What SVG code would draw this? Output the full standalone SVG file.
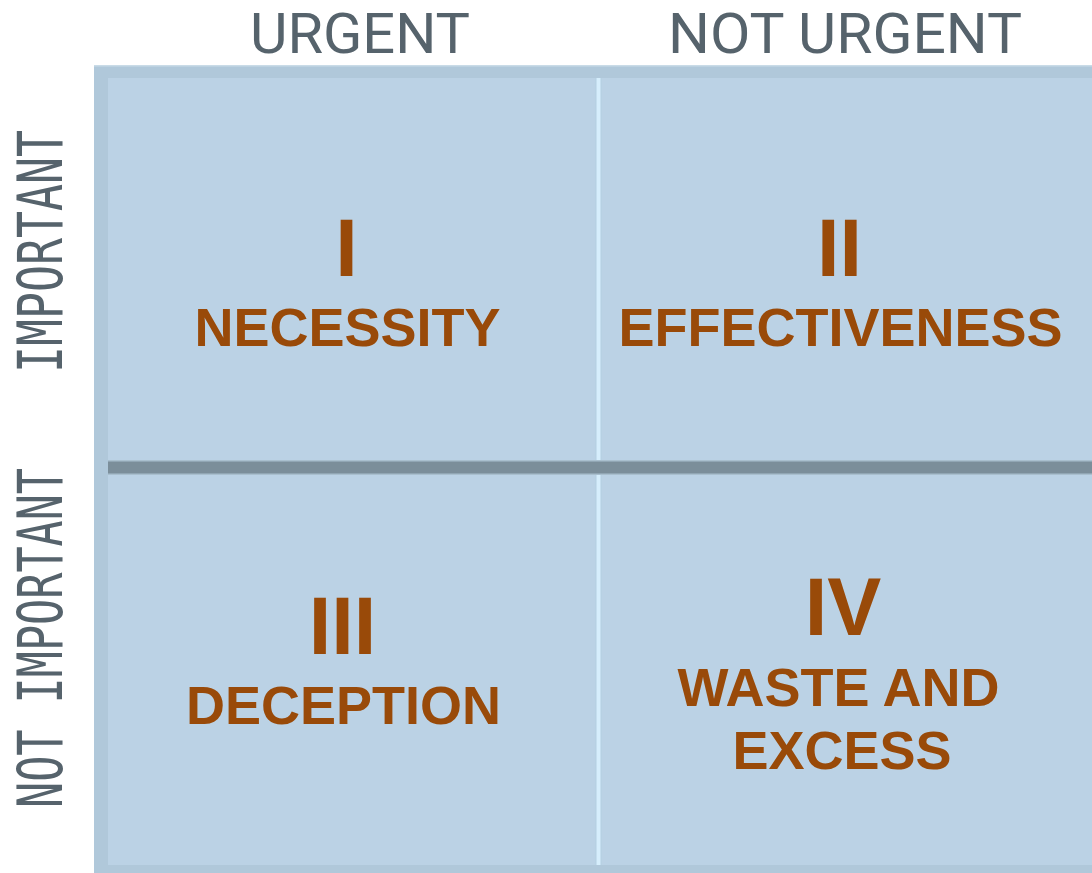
<svg xmlns="http://www.w3.org/2000/svg" width="1092" height="873" viewBox="0 0 1092 873">
  <style>
    .axis { font-family: Roboto, "Open Sans", "Liberation Sans", sans-serif; font-size: 56px; fill: #56636c; text-anchor: middle; }
    .axis-v { font-family: "DejaVu Sans Mono", "Liberation Mono", monospace; font-size: 63px; fill: #56636c; text-anchor: middle; }
    .num { font-family: "Liberation Sans", Arial, sans-serif; font-weight: bold; font-size: 81px; fill: #994a09; text-anchor: middle; }
    .name { font-family: "Liberation Sans", Arial, sans-serif; font-weight: bold; font-size: 54px; fill: #994a09; text-anchor: middle; }
  </style>

  <rect width="1092" height="873" fill="#ffffff"/>

  <!-- matrix panel -->
  <g id="panel">
    <rect x="94" y="65" width="998" height="808" fill="#b0c8da"/>
    <rect x="94" y="65" width="998" height="1.5" fill="#c9dbe7"/>
    <rect x="108" y="78" width="984" height="787" fill="#bbd2e5"/>
  </g>

  <!-- dividers -->
  <g id="dividers">
    <rect x="595.5" y="78" width="6" height="787" fill="#b4cfe2"/>
    <rect x="596.5" y="78" width="4" height="787" fill="#d6eefc"/>
    <rect x="108" y="460" width="984" height="15" fill="#a9bfce"/>
    <rect x="108" y="461.5" width="984" height="12" fill="#7b8e9a"/>
  </g>

  <!-- axis labels -->
  <g id="axis-urgent"><text class="axis" x="360" y="53" textLength="220" lengthAdjust="spacingAndGlyphs">URGENT</text></g>
  <g id="axis-not-urgent"><text class="axis" x="845" y="53" textLength="354" lengthAdjust="spacingAndGlyphs">NOT URGENT</text></g>
  <g id="axis-important"><text class="axis-v" transform="translate(62,251.5) rotate(-90)" x="0" y="0" textLength="243" lengthAdjust="spacingAndGlyphs">IMPORTANT</text></g>
  <g id="axis-not-important"><text class="axis-v" transform="translate(62,638) rotate(-90)" x="0" y="0" textLength="340" lengthAdjust="spacingAndGlyphs">NOT IMPORTANT</text></g>

  <!-- quadrants -->
  <g id="quadrant-1">
    <text class="num" x="346.5" y="276">I</text>
    <text class="name" x="347.5" y="346">NECESSITY</text>
  </g>
  <g id="quadrant-2">
    <text class="num" x="839.5" y="276">II</text>
    <text class="name" x="840.5" y="346">EFFECTIVENESS</text>
  </g>
  <g id="quadrant-3">
    <text class="num" x="342.5" y="653.5">III</text>
    <text class="name" x="343.5" y="723.5">DECEPTION</text>
  </g>
  <g id="quadrant-4">
    <text class="num" x="843" y="635">IV</text>
    <text class="name" x="838.5" y="705.5">WASTE AND</text>
    <text class="name" x="842" y="769">EXCESS</text>
  </g>
</svg>
